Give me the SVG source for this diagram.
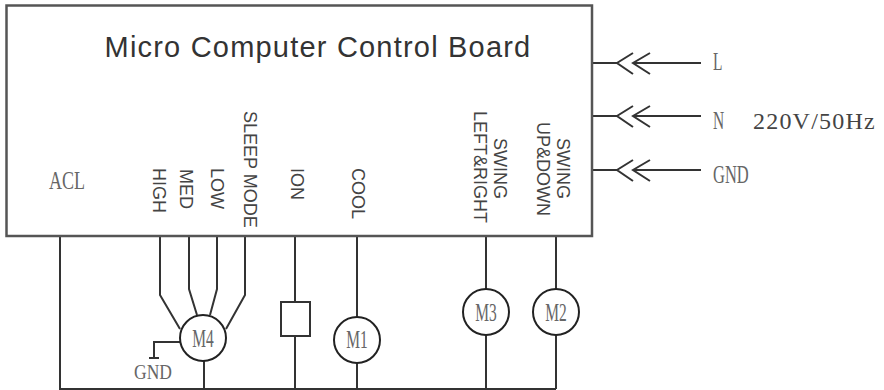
<svg xmlns="http://www.w3.org/2000/svg" width="884" height="390" viewBox="0 0 884 390">
<style>
.w{fill:none;stroke:#333;stroke-width:2}
.b{fill:none;stroke:#555;stroke-width:2.5}
.m{fill:#fff;stroke:#222;stroke-width:2}
.s{font-family:"Liberation Serif",serif;fill:#666;font-size:25px}
.a{font-family:"Liberation Sans",sans-serif;fill:#444;font-size:18px}
</style>
<rect width="884" height="390" fill="#fff"/>
<g id="connectors">
<path class="w" d="M60 236V389H556M160 236V295L180 329M189 236V289L197 315M217 236V289L210 315M245 236V295L226 329M204 361V389M180 342H154V358M149 358H159M295 236V302M295 336V389M357 236V317M357 363V389M486 236V289M486 335V389M556 236V289M556 335V389"/>
<path class="w" d="M592 63H617M633 63H701M633 53L617 63L633 74M650 53L633 63L650 74M592 116H617M633 116H701M633 106L617 116L633 127M650 106L633 116L650 127M592 170H617M633 170H701M633 160L617 170L633 181M650 160L633 170L650 181"/>
</g>
<g id="board">
<rect class="b" x="6.5" y="5.5" width="585.5" height="230.5"/>
<text x="318" y="57" text-anchor="middle" font-family="'Liberation Sans',sans-serif" font-size="29" letter-spacing="1.2" fill="#333">Micro Computer Control Board</text>
<text class="s" transform="translate(49,189) scale(.72,1)">ACL</text>
<text class="a" transform="translate(153,168) rotate(90)">HIGH</text>
<text class="a" transform="translate(180,169) rotate(90)">MED</text>
<text class="a" transform="translate(211,168) rotate(90)">LOW</text>
<text class="a" transform="translate(244,111) rotate(90)">SLEEP MODE</text>
<text class="a" transform="translate(291,168) rotate(90)">ION</text>
<text class="a" transform="translate(352,168) rotate(90)">COOL</text>
<text class="a" transform="translate(474,111) rotate(90)">LEFT&amp;RIGHT</text>
<text class="a" transform="translate(494,138) rotate(90)">SWING</text>
<text class="a" transform="translate(537,122) rotate(90)">UP&amp;DOWN</text>
<text class="a" transform="translate(557,138) rotate(90)">SWING</text>
</g>
<g id="m4"><circle class="m" cx="203" cy="338" r="23"/><text class="s" transform="translate(203,347) scale(.62,1)" text-anchor="middle">M4</text></g>
<g id="m4-gnd"><text class="s" transform="translate(153,379) scale(.7,.85)" text-anchor="middle">GND</text></g>
<g id="ion"><rect class="w" x="281" y="302" width="29" height="34"/></g>
<g id="m1"><circle class="m" cx="357" cy="340" r="23"/><text class="s" transform="translate(357,348) scale(.62,1)" text-anchor="middle">M1</text></g>
<g id="m3"><circle class="m" cx="486" cy="312" r="23"/><text class="s" transform="translate(486,321) scale(.62,1)" text-anchor="middle">M3</text></g>
<g id="m2"><circle class="m" cx="556" cy="312" r="23"/><text class="s" transform="translate(556,321) scale(.62,1)" text-anchor="middle">M2</text></g>
<g id="inputs">
<text class="s" transform="translate(713,70) scale(.62,1)">L</text>
<text class="s" transform="translate(713,129) scale(.62,1)">N</text>
<text class="s" transform="translate(713,183) scale(.66,1)">GND</text>
<text x="753" y="129" font-family="'Liberation Serif',serif" font-size="24" letter-spacing="1.2" fill="#444">220V/50Hz</text>
</g>
</svg>
